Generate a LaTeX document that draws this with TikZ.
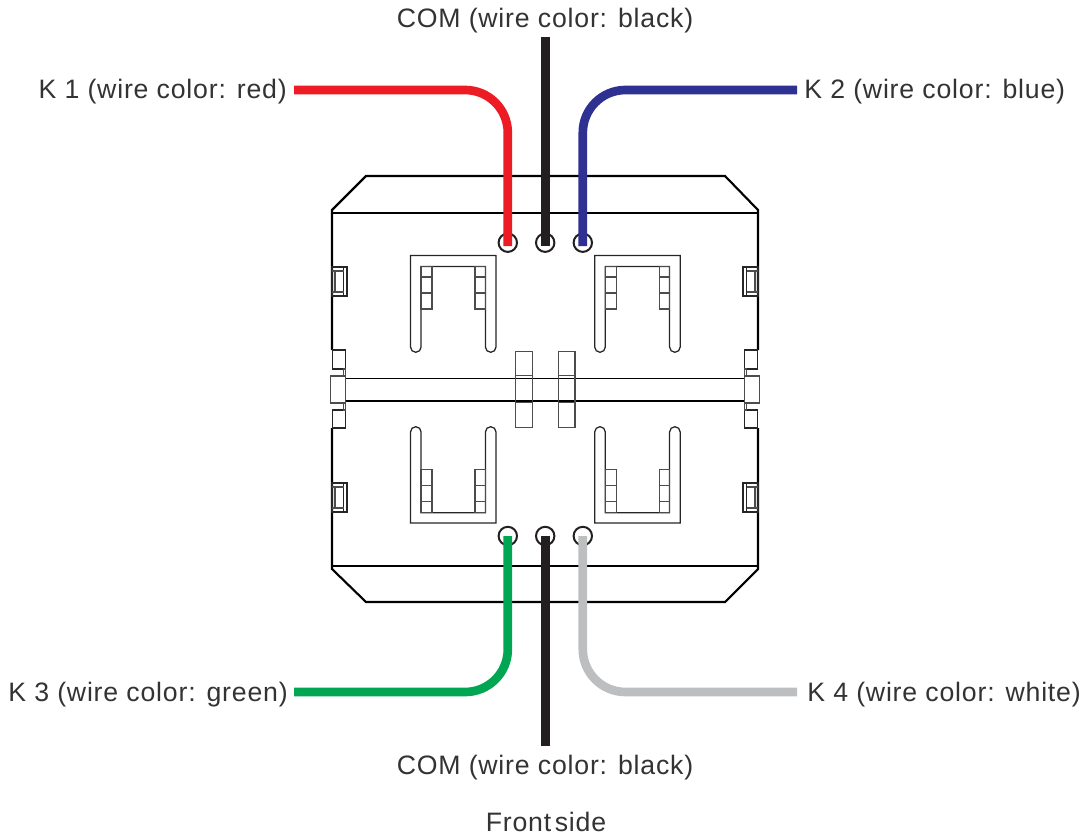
\documentclass[tikz,border=0pt]{standalone}
\usepackage{fontspec}
\setmainfont[LetterSpace=3]{Liberation Sans}
\definecolor{wred}{HTML}{ED1C24}
\definecolor{wblack}{HTML}{231F20}
\definecolor{wblue}{HTML}{2E3192}
\definecolor{wgreen}{HTML}{00A651}
\definecolor{wgray}{HTML}{BCBEC0}
\tikzset{
  thick line/.style={draw=black,line width=1.6pt},
  thin line/.style={draw=black!85,line width=0.95pt},
  rail line/.style={draw=black,line width=1.05pt},
  soft line/.style={draw=black!70,line width=0.95pt},
  wire/.style={line width=6.5pt,line cap=butt,rounded corners=32pt},
  hole/.style={draw=wblack,line width=1.5pt,circle,minimum size=13.8pt,inner sep=0pt},
  lab/.style={inner sep=0pt,font=\fontsize{20}{22}\selectfont,text=black!80},
}
\begin{document}
\begin{tikzpicture}[x=0.75pt,y=-0.75pt]
\useasboundingbox (0,0) rectangle (1088,838);
% body
\draw[thick line] (332,350) -- (332,210) -- (366,176) -- (725,176) -- (758,210) -- (758,350);
\draw[thick line] (332,428) -- (332,569) -- (366,602) -- (725,602) -- (758,569) -- (758,428);
\draw[thick line] (332,213) -- (758,213);
\draw[thick line] (332,566) -- (758,566);
% rail
\draw[rail line] (346,378.3) -- (745,378.3) (346,401) -- (745,401);
\foreach \s/\m in {1/0,-1/1090}{
\begin{scope}[shift={(\m,0)},xscale=\s]
  \draw[thin line] (332.5,350) rectangle (345.5,369);
  \draw[soft line] (330.5,376) rectangle (345.5,403);
  \draw[thin line] (332.5,410) rectangle (345.5,428);
  \draw[soft line] (343.5,369) rectangle (345.5,376) (343.5,403) rectangle (345.5,410);
  % clips
  \foreach \t in {267,483}{
    \draw[thin line] (332,\t) rectangle (347,\t+29);
    \draw[thin line] (343.5,\t) -- (343.5,\t+29);
    \draw[soft line] (332,\t+4) -- (343.5,\t+4) (332,\t+25) -- (343.5,\t+25);
    \draw[soft line] (335,\t+4) -- (335,\t+25);
  }
\end{scope}}
% centre bars
\foreach \a/\b in {515.7/532.3,558.3/575}{
  \draw[soft line] (\a,351.7) rectangle (\b,427.3);
  \draw[soft line] (\a,375.7) -- (\b,375.7) (\a,402.7) -- (\b,402.7);
}
% latch shapes
\foreach \o in {0,184.2}{
\begin{scope}[shift={(\o,0)}]
  \draw[thin line] (410.5,347) -- (410.5,255.5) -- (496,255.5) -- (496,347)
     arc[start angle=0,end angle=-180,x radius=5.3,y radius=-5.3] -- (485.4,266.5) -- (421.1,266.5) -- (421.1,347)
     arc[start angle=0,end angle=-180,x radius=5.3,y radius=-5.3] -- cycle;
  \draw[soft line] (421,266.5) rectangle (432,309) (421,277) -- (432,277) (421,293) -- (432,293);
  \draw[soft line] (475,266.5) rectangle (485.5,309) (475,277) -- (485.5,277) (475,293) -- (485.5,293);
  \draw[thin line] (410.5,432) -- (410.5,523) -- (496,523) -- (496,432)
     arc[start angle=0,end angle=180,x radius=5.3,y radius=-5.3] -- (485.4,512.7) -- (421.1,512.7) -- (421.1,432)
     arc[start angle=0,end angle=180,x radius=5.3,y radius=-5.3] -- cycle;
  \draw[soft line] (421,469.3) rectangle (432,512.7) (421,485.7) -- (432,485.7) (421,501.7) -- (432,501.7);
  \draw[soft line] (475,469.3) rectangle (485.5,512.7) (475,485.7) -- (485.5,485.7) (475,501.7) -- (485.5,501.7);
\end{scope}}
% holes
\node[hole] (h1) at (507.8,242.7) {};
\node[hole] (h2) at (545.2,242.7) {};
\node[hole] (h3) at (582.8,242.7) {};
\node[hole] (h4) at (507.8,536) {};
\node[hole] (h5) at (545.2,536) {};
\node[hole] (h6) at (582.8,536) {};
% labels
\node[lab,anchor=base] (com1) at (545,28) {COM (wire color: black)};
\node[lab,anchor=base east] (k1) at (287,99) {K 1 (wire color: red)};
\node[lab,anchor=base west] (k2) at (804,99) {K 2 (wire color: blue)};
\node[lab,anchor=base east] (k3) at (288,701) {K 3 (wire color: green)};
\node[lab,anchor=base west] (k4) at (807,701) {K 4 (wire color: white)};
\node[lab,anchor=base] (com2) at (545,774) {COM (wire color: black)};
\node[lab,anchor=base] (fs) at (546,831) {Front\hspace{-3.5pt} side};
% wire free ends
\coordinate (r0) at (294,90);
\coordinate (b0) at (797,90);
\coordinate (g0) at (294,692);
\coordinate (w0) at (797,692);
\coordinate (t0) at (545.2,37);
\coordinate (d0) at (545.2,746);
% wires
\draw[wire,wred] (r0) -| ([yshift=-2.6pt]h1.center);
\draw[wire,wblack] (t0) -- ([yshift=-2.6pt]h2.center);
\draw[wire,wblue] (b0) -| ([yshift=-2.6pt]h3.center);
\draw[wire,wgreen] (g0) -| (h4.center);
\draw[wire,wblack] (d0) -- (h5.center);
\draw[wire,wgray] (w0) -| (h6.center);
\end{tikzpicture}
\end{document}
